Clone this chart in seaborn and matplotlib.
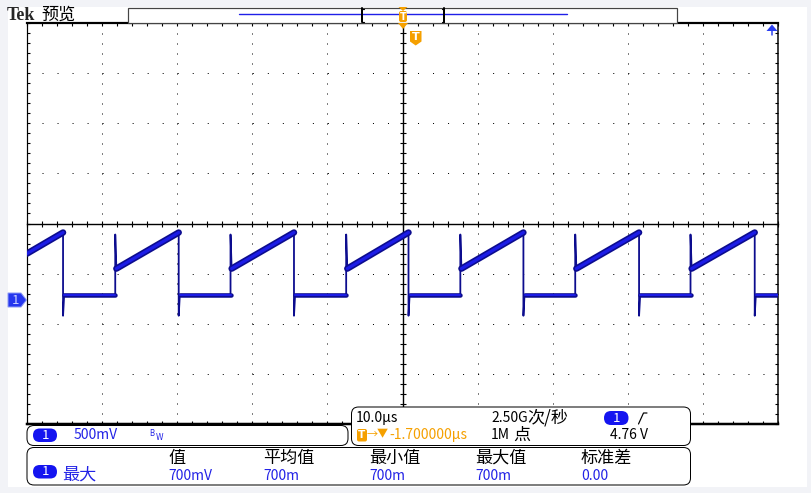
import numpy as np
import pandas as pd
import matplotlib
matplotlib.use('Agg')
import matplotlib.pyplot as plt
import seaborn as sns
from matplotlib.patches import Rectangle, FancyBboxPatch, Polygon
from matplotlib.lines import Line2D
from matplotlib.transforms import IdentityTransform

fall_times = [-45.2, -29.8, -14.45, 0.8, 16.1, 31.5, 46.9]   # µs
rise_times = [-38.25, -22.9, -7.5, 7.7, 23.0, 38.35]          # µs
start_level = 0.45     # V at left screen edge
low_level = 0.04       # V
ramp_start = 0.30      # V
ramp_peak = 0.66       # V
rise_spike = 0.64      # V
fall_spike = -0.17     # V
t_window = [-50, 50]   # µs (10 µs/div)
screen_center_v = 0.75
volts_per_div = 0.5

header_labels = ['值', '平均值', '最小值', '最大值', '标准差']
meas_values = ['700mV', '700m', '700m', '700m', '0.00']

# ---------------- build trace ----------------
tt, vv = [t_window[0]], [start_level]
ramps = [[(t_window[0], start_level), (fall_times[0], ramp_peak)]]
lows = []
for i, tf in enumerate(fall_times):
    tt += [tf, tf, tf + 0.15]
    vv += [ramp_peak, fall_spike, low_level]
    if i < len(rise_times):
        tr = rise_times[i]
        tt += [tr, tr, tr + 0.15]
        vv += [low_level, rise_spike, ramp_start]
        lows.append([(tf + 0.15, low_level), (tr, low_level)])
        ramps.append([(tr + 0.15, ramp_start), (fall_times[i + 1], ramp_peak)])
    else:
        tt += [t_window[1]]
        vv += [low_level]
        lows.append([(tf + 0.15, low_level), (t_window[1], low_level)])

trace = pd.DataFrame({'t': tt, 'v': vv, 'u': 0})

def seg_frame(segs):
    rows = []
    for k, s in enumerate(segs):
        for (a, b) in s:
            rows.append((a, b, k))
    return pd.DataFrame(rows, columns=['t', 'v', 'u'])

ramp_df = seg_frame(ramps)
low_df = seg_frame(lows)

# ---------------- figure ----------------
sns.set_theme(style='white')
plt.rcParams['font.family'] = ['Noto Sans CJK SC', 'DejaVu Sans']
W, H = 811, 493
fig = plt.figure(figsize=(W / 100, H / 100), dpi=100)
fig.patch.set_facecolor('#f2f3f7')
ID = IdentityTransform()
def Y(y):
    return H - y

PX = 0.72  # points per pixel
BLUE = '#2222e6'
ORANGE = '#f5a000'
NAVY = '#0c0c8e'
TRACE = '#1c1ce6'

fig.add_artist(Rectangle((8, Y(487)), 799, 480, transform=ID, facecolor='white',
                         edgecolor='none', zorder=-10))

# axes for grid + trace
pos = [27 / W, (H - 424) / H, 751 / W, 401 / H]
vmin = screen_center_v - 4 * volts_per_div
vmax = screen_center_v + 4 * volts_per_div
ax2 = fig.add_axes(pos)
ax = fig.add_axes(pos)
for a in (ax, ax2):
    a.set_xlim(*t_window)
    a.set_ylim(vmin, vmax)
    a.patch.set_visible(False)
ax2.set_zorder(0)
ax.set_zorder(1)

xmaj = np.arange(t_window[0], t_window[1] + 0.01, 10)
xmin_ = np.arange(t_window[0], t_window[1] + 0.01, 2)
ymaj = np.arange(vmin, vmax + 0.001, 0.5)
ymin_ = np.arange(vmin, vmax + 0.001, 0.1)

ax.set_xticks(xmaj)
ax.set_xticks(xmin_, minor=True)
ax.set_yticks(ymaj)
ax.set_yticks(ymin_, minor=True)
ax.tick_params(which='both', direction='in', length=2.5, width=0.8, color='black',
               top=True, right=True, bottom=True, left=True,
               labelbottom=False, labelleft=False)
ax.spines['left'].set_linewidth(1.2 * PX)
ax.spines['right'].set_linewidth(1.5 * PX)
ax.spines['top'].set_linewidth(2.2 * PX)
ax.spines['bottom'].set_linewidth(2.5 * PX)
for s in ax.spines.values():
    s.set_color('black')
    s.set_visible(True)

for x in xmaj[1:-1]:
    if abs(x) > 1e-6:
        ax.axvline(x, color='black', lw=PX, ls=(0, (1, 9)), zorder=1)
for y in ymaj[1:-1]:
    if abs(y - screen_center_v) > 1e-6:
        ax.axhline(y, color='black', lw=PX, ls=(0, (1, 14.02)), zorder=1)

# centre cross
ax2.spines['top'].set_visible(False)
ax2.spines['right'].set_visible(False)
ax2.spines['left'].set_position(('data', 0))
ax2.spines['bottom'].set_position(('data', screen_center_v))
for s in ('left', 'bottom'):
    ax2.spines[s].set_linewidth(1.4 * PX)
    ax2.spines[s].set_color('black')
    ax2.spines[s].set_visible(True)
ax2.set_xticks(xmaj)
ax2.set_xticks(xmin_, minor=True)
ax2.set_yticks(ymaj)
ax2.set_yticks(ymin_, minor=True)
ax2.tick_params(which='both', direction='inout', length=5, width=0.8, color='black',
                labelbottom=False, labelleft=False, bottom=True, left=True)

# trace
sns.lineplot(data=trace, x='t', y='v', units='u', estimator=None, sort=False,
             color=NAVY, lw=1.8 * PX, ax=ax, zorder=3)
sns.lineplot(data=ramp_df, x='t', y='v', units='u', estimator=None, sort=False,
             color=NAVY, lw=6.5 * PX, ax=ax, zorder=4)
sns.lineplot(data=low_df, x='t', y='v', units='u', estimator=None, sort=False,
             color=NAVY, lw=4.5 * PX, ax=ax, zorder=4)
sns.lineplot(data=ramp_df, x='t', y='v', units='u', estimator=None, sort=False,
             color=TRACE, lw=3.2 * PX, ax=ax, zorder=5)
sns.lineplot(data=low_df, x='t', y='v', units='u', estimator=None, sort=False,
             color=TRACE, lw=2.0 * PX, ax=ax, zorder=5)
ax.set_xlabel('')
ax.set_ylabel('')
if ax.get_legend():
    ax.get_legend().remove()

# ---------------- decorations ----------------
def txt(x, y, s, size=10, color='black', **kw):
    fig.text(x, Y(y), s, transform=ID, fontsize=size, color=color, va='center',
             zorder=20, **kw)

def pill(x0, y0, x1, y1):
    h = y1 - y0
    fig.add_artist(FancyBboxPatch((x0, Y(y1)), x1 - x0, h,
                                  boxstyle=f'round,pad=0,rounding_size={h / 2}',
                                  transform=ID, facecolor='#1414f0', edgecolor='none', zorder=18))
    fig.text((x0 + x1) / 2, Y((y0 + y1) / 2), '1', transform=ID, fontsize=9.5,
             color='white', ha='center', va='center', zorder=21)

def box(x0, y0, x1, y1):
    fig.add_artist(FancyBboxPatch((x0, Y(y1)), x1 - x0, y1 - y0,
                                  boxstyle='round,pad=0,rounding_size=7',
                                  transform=ID, facecolor='white', edgecolor='black',
                                  lw=1.0 * PX, zorder=15))

# title
fig.text(7, Y(15), 'Tek', transform=ID, fontsize=13, fontweight='bold',
         family='Liberation Serif', va='center', zorder=20)
txt(41, 15, '预览', size=12.3)

# top record bar
fig.add_artist(Rectangle((128, Y(22.5)), 549, 15, transform=ID, facecolor='white',
                         edgecolor='#444444', lw=1.2 * PX, zorder=10))
fig.add_artist(Line2D([239, 567], [Y(14.3), Y(14.3)], transform=ID, color='#1f1fe8',
                      lw=1.4 * PX, zorder=11))
for bx, d in ((362, 1), (444, -1)):
    fig.add_artist(Line2D([bx, bx], [Y(8), Y(22)], transform=ID, color='black',
                          lw=2 * PX, zorder=12))
    fig.add_artist(Line2D([bx, bx + 2 * d], [Y(8.5), Y(8.5)], transform=ID,
                          color='black', lw=1.2 * PX, zorder=12))
    fig.add_artist(Line2D([bx, bx + 2 * d], [Y(21.5), Y(21.5)], transform=ID,
                          color='black', lw=1.2 * PX, zorder=12))
# trigger marker on bar
fig.add_artist(Polygon([(398.5, Y(7)), (407.5, Y(7)), (403, Y(11))], closed=True,
                       transform=ID, facecolor=ORANGE, edgecolor='none', zorder=13))
fig.add_artist(FancyBboxPatch((399, Y(22)), 8, 11, boxstyle='round,pad=0,rounding_size=2',
                              transform=ID, facecolor=ORANGE, edgecolor='none', zorder=13))
fig.text(403, Y(16.5), 'T', transform=ID, fontsize=7, fontweight='bold', color='white',
         ha='center', va='center', zorder=14, family='DejaVu Sans')
fig.add_artist(Polygon([(398, Y(23)), (408, Y(23)), (403, Y(29))], closed=True,
                       transform=ID, facecolor=ORANGE, edgecolor='none', zorder=13))
# trigger shield
fig.add_artist(Polygon([(410, Y(31)), (421.5, Y(31)), (421.5, Y(41.5)), (415.7, Y(45.5)),
                        (410, Y(41.5))], closed=True, transform=ID,
                       facecolor=ORANGE, edgecolor='none', zorder=13))
fig.text(415.8, Y(37.5), 'T', transform=ID, fontsize=8, fontweight='bold', color='white',
         ha='center', va='center', zorder=14, family='DejaVu Sans')
# trigger level arrow (top right)
fig.add_artist(Polygon([(766.5, Y(31)), (777.5, Y(31)), (772, Y(24.5))], closed=True,
                       transform=ID, facecolor='#2a3ef0', edgecolor='none', zorder=13))
fig.add_artist(Line2D([772, 772], [Y(31), Y(35)], transform=ID, color='#2a3ef0',
                      lw=1.5 * PX, zorder=13))
# channel ground marker
fig.add_artist(Polygon([(8, Y(293)), (21, Y(293)), (26.5, Y(300)), (21, Y(307)), (8, Y(307))],
                       closed=True, transform=ID, facecolor='#2536ee', edgecolor='#8e9af5',
                       lw=1.0 * PX, zorder=13))
fig.text(15, Y(300), '1', transform=ID, fontsize=9.5, color='#c9d0ff', ha='center',
         va='center', zorder=14)

# box 1: channel
box(27, 425.5, 348, 445.5)
pill(33, 428.5, 57, 442)
txt(74, 435, '500mV', color=BLUE)
txt(149.5, 433, 'B', size=5.5, color=BLUE, family='DejaVu Sans')
txt(155.5, 438, 'W', size=5.5, color=BLUE, family='DejaVu Sans')

# box 2: timebase / trigger
box(351.5, 407, 690.5, 445.5)
txt(356, 418, '10.0µs')
txt(491, 418, '2.50G')
txt(527.5, 417, '次/秒', size=12.3)
pill(604, 411, 628.5, 425)
fig.add_artist(Line2D([638.5, 643.5, 647], [Y(424), Y(413), Y(413)], transform=ID,
                      color='black', lw=1.2 * PX, zorder=21))
fig.add_artist(FancyBboxPatch((357, Y(441.5)), 10, 12.5, boxstyle='round,pad=0,rounding_size=2',
                              transform=ID, facecolor=ORANGE, edgecolor='none', zorder=20))
fig.text(362, Y(435.3), 'T', transform=ID, fontsize=7.5, fontweight='bold', color='white',
         ha='center', va='center', zorder=21, family='DejaVu Sans')
txt(366.5, 435, '→', size=8, color=ORANGE)
txt(376.5, 434.5, '▼', size=8, color=ORANGE)
txt(389, 435, '-1.700000µs', color=ORANGE)
txt(491, 435, '1M')
txt(513.5, 435, '点', size=12.3)
txt(610.5, 435, '4.76 V')

# box 3: measurements
box(27, 447.5, 690.5, 485)
pill(33, 465, 57, 478.5)
txt(62, 475, '最大', size=12.3, color=BLUE)
hx = [168.5, 263, 369.5, 475.5, 581]
for x, lab, val in zip(hx, header_labels, meas_values):
    txt(x, 457.5, lab, size=12.3)
    txt(x, 476, val, color=BLUE)

fig.savefig('out.png', dpi=100, facecolor=fig.get_facecolor())
